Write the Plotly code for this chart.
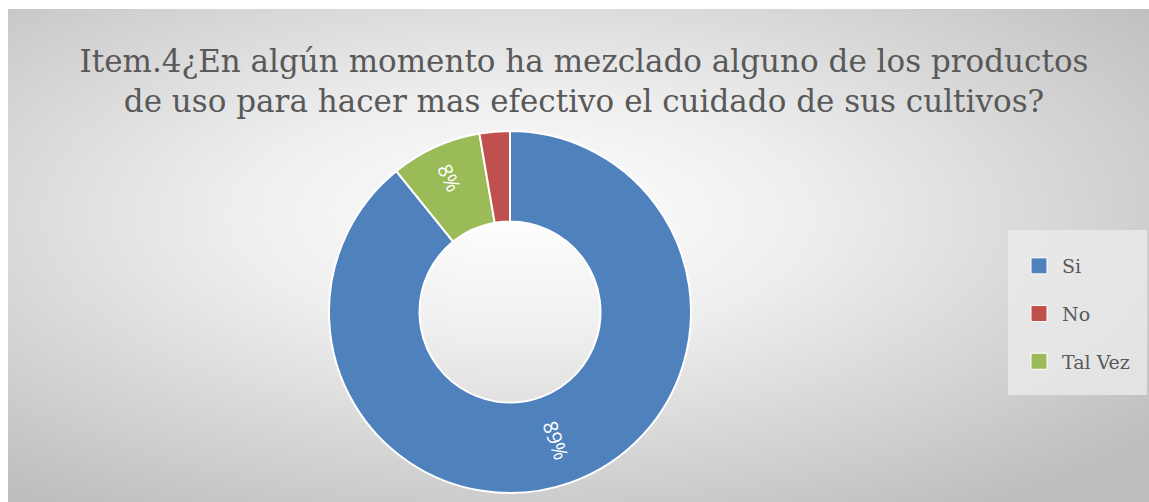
import base64
import math
import plotly.graph_objects as go

# Data
labels = ["Si", "No", "Tal Vez"]
counts = [33, 1, 3]
colors = ["#4f81bd", "#c0504d", "#9bbb59"]
show_label = [True, False, True]

# clockwise drawing order of slices from 12 o'clock (as in the reference)
draw_order = [0, 2, 1]

title_text = ("Item.4¿En algún momento ha mezclado alguno de los productos<br>"
              "de uso para hacer mas efectivo el cuidado de sus cultivos?")

W, H = 1149, 502
total = sum(counts)
pct_text = [f"{round(c / total * 100)}%" for c in counts]

svg = f'''<svg xmlns="http://www.w3.org/2000/svg" width="{W}" height="{H}" viewBox="0 0 {W} {H}" preserveAspectRatio="none">
<defs><radialGradient id="g" cx="45%" cy="42%" r="72%" gradientUnits="objectBoundingBox">
<stop offset="0" stop-color="#ffffff"/>
<stop offset="0.35" stop-color="#eeeeee"/>
<stop offset="1" stop-color="#bdbdbd"/>
</radialGradient></defs>
<rect x="0" y="0" width="{W}" height="{H}" fill="url(#g)"/>
</svg>'''
bg_uri = "data:image/svg+xml;base64," + base64.b64encode(svg.encode()).decode()

# pie geometry (paper domain)
dom_x = [329 / W, 691 / W]
dom_y = [1 - 493 / H, 1 - 131 / H]
hole = 0.5
radius_px = (dom_y[1] - dom_y[0]) * H / 2
cx = (dom_x[0] + dom_x[1]) / 2
cy = (dom_y[0] + dom_y[1]) / 2

# the big slice label is placed radially at its mid angle (computed from the data)
annotations = []
pie_text = []
cum = 0.0
for i in draw_order:
    mid = (cum + counts[i] / 2) / total * 360.0
    cum += counts[i]
    if not show_label[i]:
        pie_text.append("")
        continue
    if counts[i] / total > 0.5:
        pie_text.append("")
        r = radius_px * (1 + hole) / 2
        a = math.radians(mid)
        ang = math.degrees(math.atan2(-math.cos(a), math.sin(a)))
        ang = (ang + 90) % 180 - 90
        annotations.append(dict(
            x=cx + r * math.sin(a) / W, y=cy + r * math.cos(a) / H,
            xref="paper", yref="paper", text=pct_text[i], showarrow=False,
            textangle=ang, xanchor="center", yanchor="middle",
            font=dict(family="Open Sans", size=20, color="#ffffff"),
        ))
    else:
        pie_text.append(pct_text[i])

fig = go.Figure()

fig.add_trace(go.Pie(
    labels=[labels[i] for i in draw_order],
    values=[counts[i] for i in draw_order],
    text=pie_text,
    marker=dict(colors=[colors[i] for i in draw_order], line=dict(color="#ffffff", width=2)),
    hole=hole,
    sort=False,
    direction="clockwise",
    rotation=0,
    textinfo="text",
    textposition="inside",
    insidetextorientation="radial",
    insidetextfont=dict(family="Open Sans", size=20, color="#ffffff"),
    domain=dict(x=dom_x, y=dom_y),
    showlegend=False,
    hoverinfo="label+percent",
))

# legend entries (one per category, in legend order)
for lab, col in zip(labels, colors):
    fig.add_trace(go.Scatter(
        x=[None], y=[None], mode="markers", name=lab, legendgroup=lab,
        marker=dict(symbol="square", size=20, color=col, line=dict(color="#ffffff", width=1)),
        showlegend=True,
    ))

fig.update_layout(
    width=W, height=H,
    margin=dict(l=0, r=0, t=0, b=0),
    paper_bgcolor="#ffffff",
    plot_bgcolor="rgba(0,0,0,0)",
    xaxis=dict(visible=False),
    yaxis=dict(visible=False),
    title=dict(text=title_text, x=584 / W, xanchor="center", y=1 - 72 / H, yanchor="middle",
               font=dict(family="DejaVu Serif", size=31, color="#595959")),
    legend=dict(
        x=1016 / W, y=1 - 247 / H, xanchor="left", yanchor="top",
        bgcolor="rgba(0,0,0,0)",
        font=dict(family="DejaVu Serif", size=19, color="#595959"),
        itemwidth=36, tracegroupgap=20,
        borderwidth=0,
        itemclick=False, itemdoubleclick=False,
    ),
    annotations=annotations,
    shapes=[dict(type="rect", xref="paper", yref="paper",
                 x0=1008 / W, x1=1147 / W, y0=1 - 395 / H, y1=1 - 230 / H,
                 fillcolor="rgba(236,236,236,0.75)", line=dict(width=0), layer="below")],
    images=[dict(source=bg_uri, xref="paper", yref="paper", x=8 / W, y=1 - 9 / H,
                 sizex=1 - 8 / W, sizey=1 - 9 / H, xanchor="left", yanchor="top",
                 sizing="stretch", layer="below")],
)

fig.write_html("out.html", default_width="1149px", default_height="502px",
               config={"displayModeBar": False},
               post_script="document.documentElement.style.overflow='hidden';"
                           "document.body.style.overflow='hidden';"
                           "document.body.style.margin='0';")
